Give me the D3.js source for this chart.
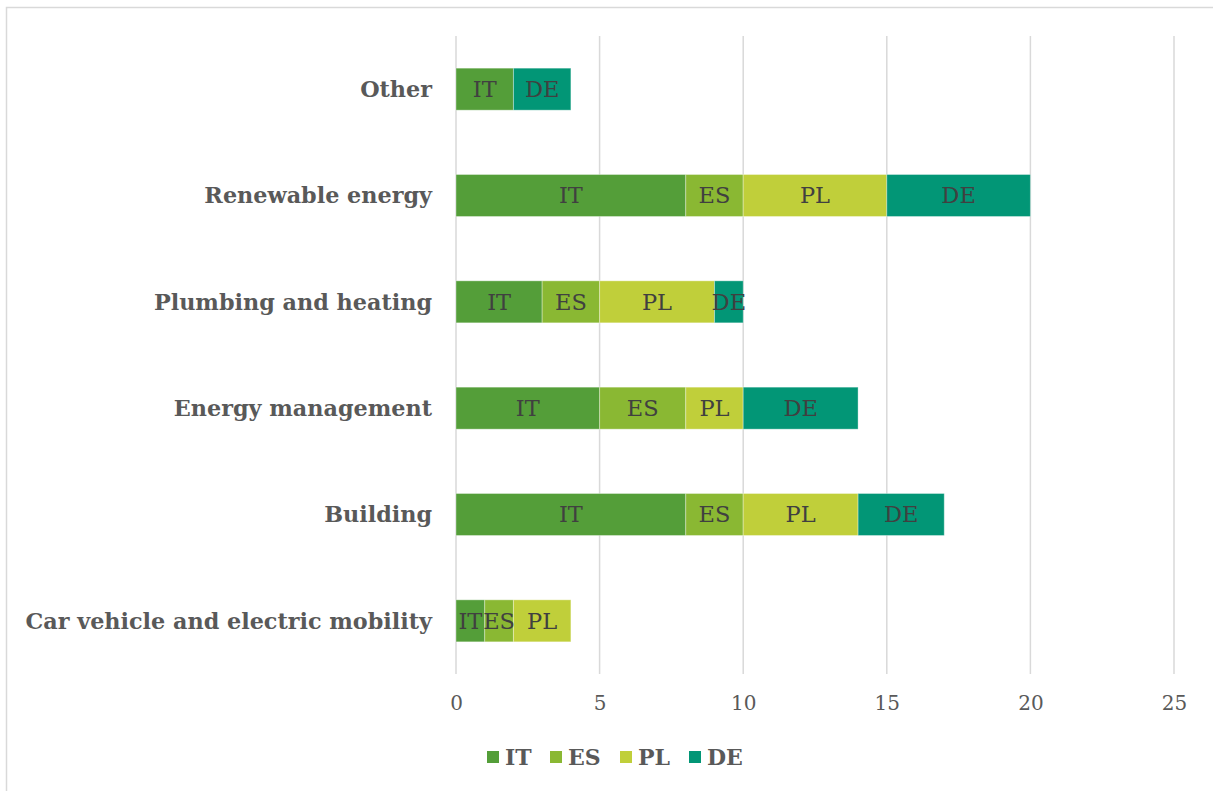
<!DOCTYPE html>
<html>
<head>
<meta charset="utf-8">
<script src="https://cdn.jsdelivr.net/npm/d3@7"></script>
<style>
  body { margin: 0; background: #fff; }
  svg { display: block; }
  text { font-stretch: normal; }
</style>
</head>
<body>
<div id="chart"></div>
<script>
const categories = ['Other', 'Renewable energy', 'Plumbing and heating', 'Energy management', 'Building', 'Car vehicle and electric mobility'];
const seriesNames = ['IT', 'ES', 'PL', 'DE'];
const valuesIT = [2, 8, 3, 5, 8, 1];
const valuesES = [0, 2, 2, 3, 2, 1];
const valuesPL = [0, 5, 4, 2, 4, 2];
const valuesDE = [2, 5, 1, 4, 3, 0];
const xTicks = [0, 5, 10, 15, 20, 25];

const COLORS = {
  IT: '#549e39',
  ES: '#8ab833',
  PL: '#c0cf3a',
  DE: '#029676',
  grid: '#d9d9d9',
  text: '#595959',
  label: '#404040'
};

const WIDTH = 1213;
const HEIGHT = 791;
const FONT = '"DejaVu Serif", "Liberation Serif", serif';
const M = { left: 456, right: 1174, top: 36, bottom: 674 };

// build rows for the stack
let rows = categories.map((c, i) => ({
  cat: c,
  IT: valuesIT[i],
  ES: valuesES[i],
  PL: valuesPL[i],
  DE: valuesDE[i]
}));
let stacked = d3.stack().keys(seriesNames)(rows);

let svg = d3.select('#chart').append('svg')
  .attr('width', WIDTH)
  .attr('height', HEIGHT);

// frame
svg.append('rect')
  .attr('x', 6.5)
  .attr('y', 7.5)
  .attr('width', WIDTH)
  .attr('height', HEIGHT)
  .style('fill', 'none')
  .style('stroke', COLORS.grid)
  .style('stroke-width', 1.5);

let x = d3.scaleLinear()
  .domain([0, 25])
  .range([M.left, M.right]);
let y = d3.scaleBand()
  .domain(categories)
  .range([M.top, M.bottom])
  .paddingInner(0.605)
  .paddingOuter(0.3025);

// Grid lines
svg.append('g')
  .selectAll('line')
  .data(xTicks)
  .enter().append('line')
    .attr('x1', d => x(d))
    .attr('x2', d => x(d))
    .attr('y1', M.top)
    .attr('y2', M.bottom)
    .style('stroke', COLORS.grid)
    .style('stroke-width', 1.5);

// x axis labels
let xAxis = svg.append('g')
  .attr('transform', `translate(0,${M.bottom})`)
  .call(d3.axisBottom(x).tickValues(xTicks).tickSize(0).tickPadding(22));
xAxis.select('.domain').remove();
xAxis.selectAll('text')
  .attr('font-family', FONT)
  .attr('font-size', 20)
  .style('fill', COLORS.text);

// y axis labels
let yAxis = svg.append('g')
  .attr('transform', `translate(${M.left},0)`)
  .call(d3.axisLeft(y).tickSize(0).tickPadding(24));
yAxis.select('.domain').remove();
yAxis.selectAll('text')
  .attr('font-family', FONT)
  .attr('font-size', 22.3)
  .attr('font-weight', 'bold')
  .attr('dy', '0.35em')
  .style('fill', COLORS.text);

// Bars
let layers = svg.append('g')
  .selectAll('g')
  .data(stacked)
  .enter().append('g')
    .style('fill', d => COLORS[d.key]);

layers.selectAll('rect')
  .data(d => d.filter(s => s[1] - s[0] > 0))
  .enter().append('rect')
    .attr('x', d => x(d[0]))
    .attr('y', d => y(d.data.cat))
    .attr('width', d => x(d[1]) - x(d[0]))
    .attr('height', y.bandwidth())
    .style('stroke', 'rgba(255,255,255,0.35)')
    .style('stroke-width', 1);

// Data labels
stacked.forEach(layer => {
  svg.append('g')
    .selectAll('text')
    .data(layer.filter(s => s[1] - s[0] > 0))
    .enter().append('text')
      .text(layer.key)
      .attr('x', d => (x(d[0]) + x(d[1])) / 2)
      .attr('y', d => y(d.data.cat) + y.bandwidth() / 2)
      .attr('dy', '0.35em')
      .attr('text-anchor', 'middle')
      .attr('font-family', FONT)
      .attr('font-size', 22.5)
      .style('fill', COLORS.label);
});

// Legend
let legendX = [487, 550, 620, 689];
let legend = svg.append('g')
  .selectAll('g')
  .data(seriesNames)
  .enter().append('g')
    .attr('transform', (d, i) => `translate(${legendX[i]},751)`);
legend.append('rect')
  .attr('width', 12)
  .attr('height', 12)
  .style('fill', d => COLORS[d]);
legend.append('text')
  .text(d => d)
  .attr('x', 18)
  .attr('y', 6)
  .attr('dy', '0.35em')
  .attr('font-family', FONT)
  .attr('font-size', 22)
  .attr('font-weight', 'bold')
  .style('fill', COLORS.text);
</script>
</body>
</html>
